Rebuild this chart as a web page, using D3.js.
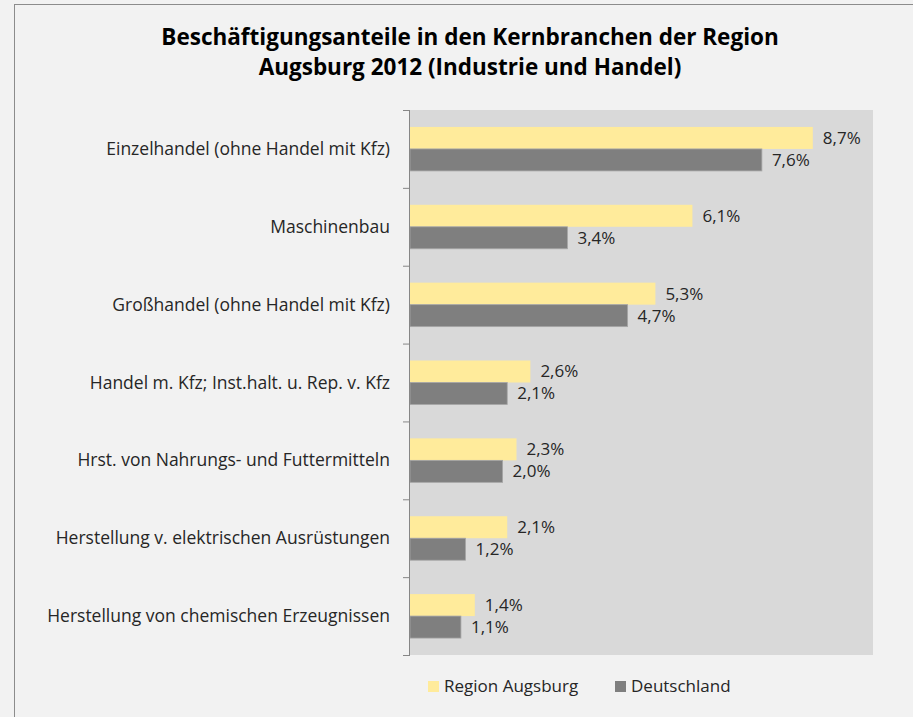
<!DOCTYPE html>
<html>
<head>
<meta charset="utf-8">
<script src="https://cdn.jsdelivr.net/npm/d3@7"></script>
<style>
  body { margin: 0; background: #f2f2f2; }
  svg text { font-family: "Open Sans", "Noto Sans", sans-serif; }
</style>
</head>
<body>
<svg id="chart" width="913" height="717"></svg>
<script>
"use strict";

// data
var categories = [
    "Einzelhandel (ohne Handel mit Kfz)",
    "Maschinenbau",
    "Großhandel (ohne Handel mit Kfz)",
    "Handel m. Kfz; Inst.halt. u. Rep. v. Kfz",
    "Hrst. von Nahrungs- und Futtermitteln",
    "Herstellung v. elektrischen Ausrüstungen",
    "Herstellung von chemischen Erzeugnissen"
];
var seriesNames = ["Region Augsburg", "Deutschland"];
var regionValues = [8.7, 6.1, 5.3, 2.6, 2.3, 2.1, 1.4];
var deValues = [7.6, 3.4, 4.7, 2.1, 2.0, 1.2, 1.1];
var colors = ["#ffeb9b", "#7f7f7f"];

var titleLines = [
    "Beschäftigungsanteile in den Kernbranchen der Region",
    "Augsburg 2012 (Industrie und Handel)"
];

var fmt = function (v) { return d3.format(".1f")(v).replace(".", ",") + "%"; };

var rows = categories.map(function (c, i) {
    return { cat: c, vals: [regionValues[i], deValues[i]] };
});

var svg = d3.select("#chart");

// frame
svg.append("rect")
    .attr("x", 14.5).attr("y", 4.5)
    .attr("width", 913).attr("height", 730)
    .attr("fill", "#f2f2f2")
    .attr("stroke", "#8c8c8c")
    .attr("stroke-width", 1);

// title
svg.append("g").selectAll("text")
    .data(titleLines)
    .enter().append("text")
        .attr("x", 470)
        .attr("y", function (d, i) { return 45 + i * 30; })
        .attr("text-anchor", "middle")
        .attr("font-size", 22.5)
        .attr("font-weight", "bold")
        .attr("fill", "#000")
        .text(function (d) { return d; });

// scales
var x = d3.scaleLinear().domain([0, 10]).range([410, 873]);
var y = d3.scaleBand().domain(categories).range([110, 655]);
var ySub = d3.scaleBand().domain(seriesNames).range([0, y.bandwidth()]).paddingOuter(0.77);

// plot area
svg.append("rect")
    .attr("x", x(0)).attr("y", y.range()[0])
    .attr("width", x(10) - x(0))
    .attr("height", y.range()[1] - y.range()[0])
    .attr("fill", "#d9d9d9");

// bars
var groups = svg.append("g").selectAll("g")
    .data(rows)
    .enter().append("g")
        .attr("transform", function (d) { return "translate(0," + y(d.cat) + ")"; });

groups.selectAll("rect")
    .data(function (d) { return d.vals; })
    .enter().append("rect")
        .attr("x", x(0))
        .attr("y", function (d, i) { return ySub(seriesNames[i]); })
        .attr("width", function (d) { return x(d) - x(0); })
        .attr("height", ySub.bandwidth())
        .attr("fill", function (d, i) { return colors[i]; })
        .attr("stroke", function (d, i) { return i === 1 ? "#a6a6a6" : "none"; })
        .attr("stroke-width", 0.8);

groups.selectAll("text")
    .data(function (d) { return d.vals; })
    .enter().append("text")
        .attr("x", function (d) { return x(d) + 10; })
        .attr("y", function (d, i) { return ySub(seriesNames[i]) + ySub.bandwidth() / 2; })
        .attr("dy", "0.35em")
        .attr("font-size", 17)
        .attr("fill", "#262626")
        .text(fmt);

// category axis
var axis = svg.append("g");
var edges = categories.map(function (c) { return y(c); }).concat([y.range()[1]]);

axis.append("line")
    .attr("x1", x(0) - 0.5).attr("x2", x(0) - 0.5)
    .attr("y1", y.range()[0]).attr("y2", y.range()[1])
    .attr("stroke", "#868686");

axis.selectAll(".tick")
    .data(edges)
    .enter().append("line")
        .attr("class", "tick")
        .attr("x1", x(0) - 7).attr("x2", x(0))
        .attr("y1", function (d) { return d + 0.5; })
        .attr("y2", function (d) { return d + 0.5; })
        .attr("stroke", "#868686");

axis.selectAll("text")
    .data(categories)
    .enter().append("text")
        .attr("x", x(0) - 20)
        .attr("y", function (d) { return y(d) + y.bandwidth() / 2; })
        .attr("dy", "0.35em")
        .attr("text-anchor", "end")
        .attr("font-size", 17.5)
        .attr("fill", "#262626")
        .text(function (d) { return d; });

// legend
var legendX = [428, 615];
var legend = svg.append("g").selectAll("g")
    .data(seriesNames)
    .enter().append("g")
        .attr("transform", function (d, i) { return "translate(" + legendX[i] + ",681)"; });

legend.append("rect")
    .attr("width", 11).attr("height", 11)
    .attr("fill", function (d, i) { return colors[i]; });

legend.append("text")
    .attr("x", 16).attr("y", 5.5)
    .attr("dy", "0.35em")
    .attr("font-size", 17)
    .attr("fill", "#262626")
    .text(function (d) { return d; });
</script>
</body>
</html>
